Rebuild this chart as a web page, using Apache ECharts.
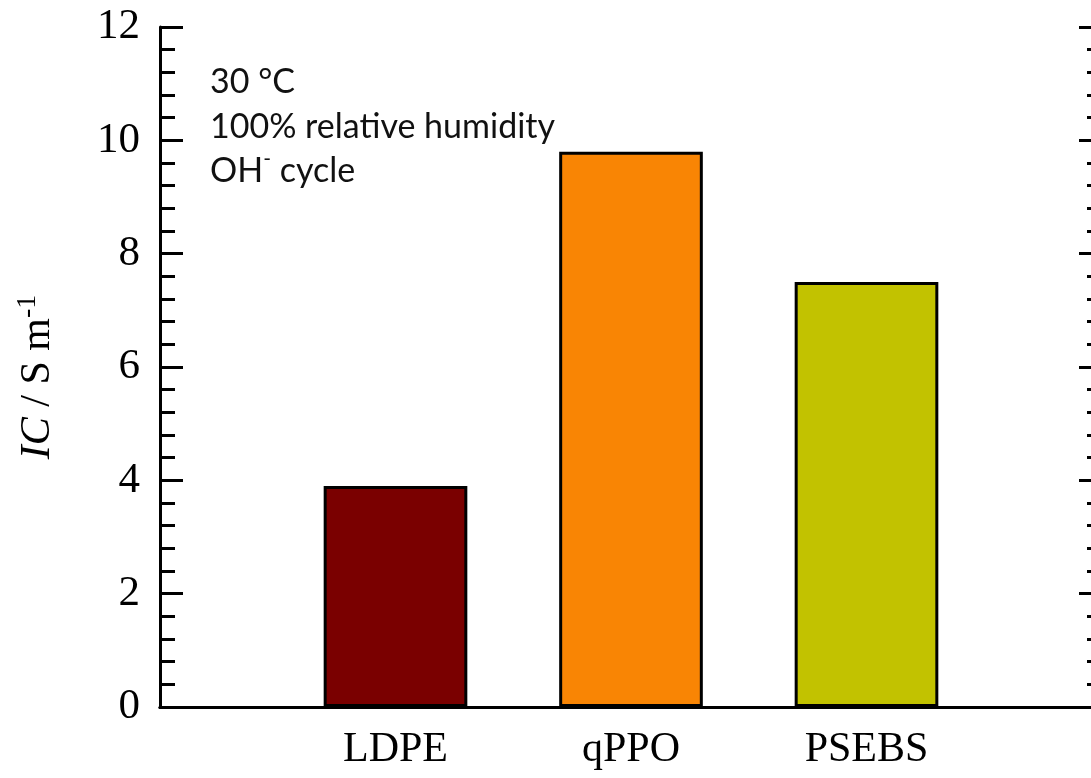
<!DOCTYPE html>
<html>
<head>
<meta charset="utf-8">
<script src="https://cdn.jsdelivr.net/npm/echarts@6/dist/echarts.min.js"></script>
<style>
  html, body { margin: 0; padding: 0; background: #fff; overflow: hidden; }
  /* the frame runs a little past the right edge of the page */
  #chart { width: 1112px; height: 778px; }
</style>
</head>
<body>
<div id="chart"></div>
<script>
// Ionic conductivity of the three membranes
const membranes = ['LDPE', 'qPPO', 'PSEBS'];
const conductivity = [3.9, 9.8, 7.5];
const barColors = ['#7a0000', '#f98504', '#c2c200'];
const yTicks = { min: 0, max: 12, interval: 2 };
const conditions = ['30 °C', '100% relative humidity', 'OH{sup|-} cycle'];

// pad the category axis with an empty slot on each side so bars sit between the frame edges
const xCats = [''].concat(membranes, ['']);
const barData = [null].concat(
  conductivity.map((v, i) => ({ value: v, itemStyle: { color: barColors[i] } })),
  [null]
);

const serif = '"Liberation Serif", "Times New Roman", serif';
const sans = 'Lato, "Open Sans", sans-serif';

const chart = echarts.init(document.getElementById('chart'), null, { renderer: 'canvas' });
chart.setOption({
  animation: false,
  backgroundColor: '#fff',
  grid: { left: 160, right: 10, top: 27, bottom: 71, containLabel: false },
  xAxis: [
    {
      type: 'category',
      data: xCats,
      boundaryGap: false,
      axisLine: { lineStyle: { color: '#000', width: 3 } },
      axisTick: { show: false },
      axisLabel: { interval: 0, color: '#000', fontFamily: serif, fontSize: 42, margin: 22 }
    },
    {
      type: 'category',
      data: xCats,
      position: 'top',
      boundaryGap: false,
      axisLine: { lineStyle: { color: '#000', width: 3 } },
      axisTick: { show: false },
      axisLabel: { show: false }
    }
  ],
  yAxis: [
    {
      type: 'value',
      min: yTicks.min, max: yTicks.max, interval: yTicks.interval,
      position: 'left',
      axisLine: { show: true, lineStyle: { color: '#000', width: 3 } },
      axisTick: { show: true, inside: true, length: 23, lineStyle: { color: '#000', width: 3 } },
      minorTick: { show: true, splitNumber: 5, length: 15, lineStyle: { color: '#000', width: 3 } },
      splitLine: { show: false },
      axisLabel: { color: '#000', fontFamily: serif, fontSize: 43, margin: 20 },
      name: '{i|IC} / S m{sup|-1}',
      nameLocation: 'middle',
      nameGap: 98,
      nameRotate: 90,
      nameTextStyle: {
        color: '#000', fontFamily: serif, fontSize: 42,
        padding: [0, 20, 0, 0],
        rich: {
          i: { fontFamily: serif, fontSize: 42, fontStyle: 'italic', color: '#000' },
          sup: { fontFamily: serif, fontSize: 28, color: '#000', verticalAlign: 'top', padding: [0, 0, 20, 0] }
        }
      }
    },
    {
      type: 'value',
      min: yTicks.min, max: yTicks.max, interval: yTicks.interval,
      position: 'right',
      axisLine: { show: true, lineStyle: { color: '#000', width: 3 } },
      axisTick: { show: true, inside: true, length: 23, lineStyle: { color: '#000', width: 3 } },
      minorTick: { show: true, splitNumber: 5, length: 15, lineStyle: { color: '#000', width: 3 } },
      splitLine: { show: false },
      axisLabel: { show: false }
    }
  ],
  series: [
    {
      type: 'bar',
      data: barData,
      barWidth: '61%',
      itemStyle: { borderColor: '#000', borderWidth: 3 }
    }
  ],
  graphic: [
    {
      type: 'text',
      left: 210,
      top: 60,
      style: {
        text: conditions.join('\n'),
        fill: '#111',
        font: '34px ' + sans,
        lineHeight: 44.5,
        rich: {
          sup: { font: '21px ' + sans, fill: '#111', verticalAlign: 'top', padding: [0, 0, 18, 0], lineHeight: 44.5 }
        }
      }
    }
  ]
});
</script>
</body>
</html>
